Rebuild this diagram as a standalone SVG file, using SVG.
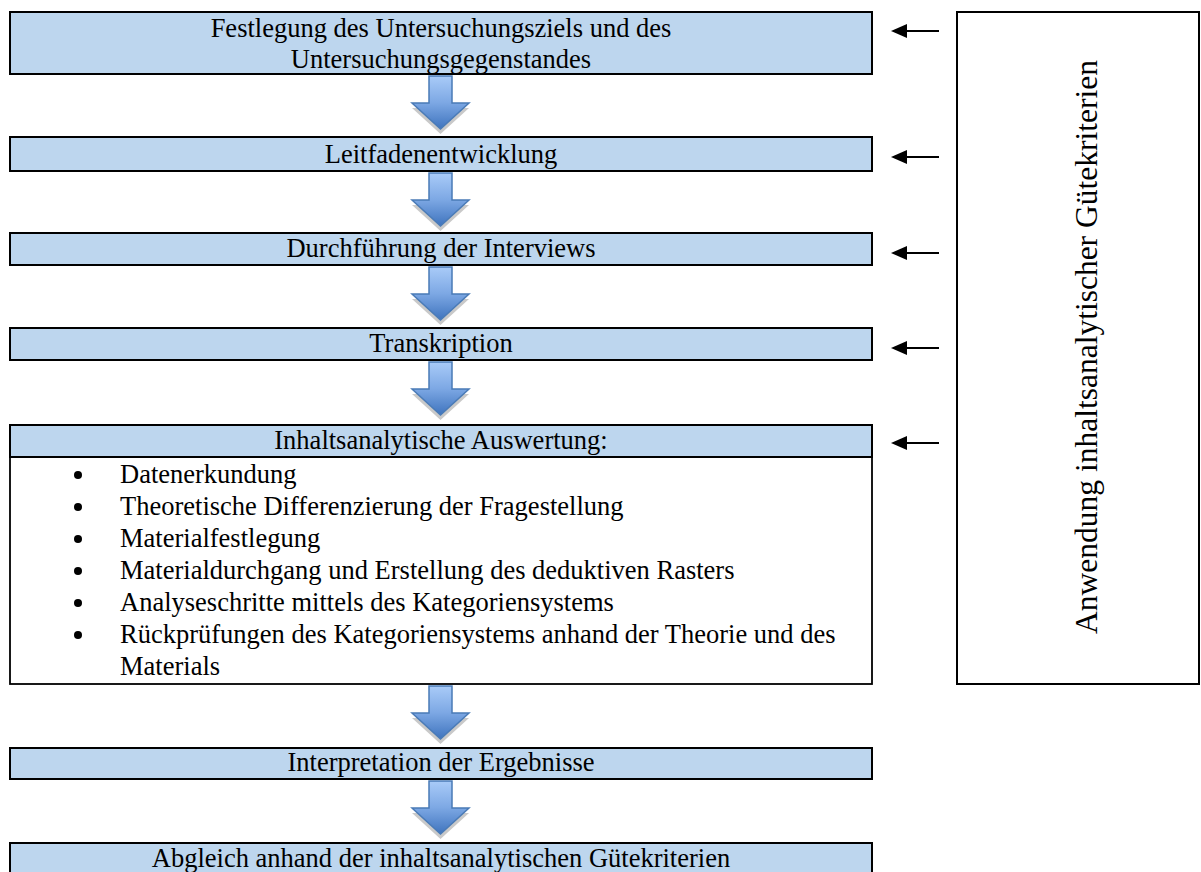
<svg xmlns="http://www.w3.org/2000/svg" width="1201" height="872" viewBox="0 0 1201 872">
  <style>
    .box { fill: #BDD6EE; stroke: #000; stroke-width: 2; }
    .list { fill: #fff; stroke: #000; stroke-width: 1.8; }
    .frame { fill: #fff; stroke: #000; stroke-width: 2; }
    .t { font-family: "Liberation Serif", "Times New Roman", serif; font-size: 26.5px; fill: #000; }
    .c { text-anchor: middle; }
    .v { font-size: 31.5px; }
    .blk { fill: url(#gArrow); stroke: #4A7BB7; stroke-width: 1.5; stroke-linejoin: miter; }
    .shd { fill: #c9c9c9; }
    .side { stroke: #000; stroke-width: 2.2; fill: none; marker-end: url(#ah); }
  </style>
  <defs>
    <linearGradient id="gArrow" x1="0" y1="0" x2="0" y2="1">
      <stop offset="0" stop-color="#A9CBF8"/>
      <stop offset="0.5" stop-color="#7DA8E4"/>
      <stop offset="1" stop-color="#3F74BE"/>
    </linearGradient>
    <marker id="ah" markerUnits="userSpaceOnUse" viewBox="0 0 16 14" refX="12" refY="7" markerWidth="16" markerHeight="14" orient="auto">
      <path d="M0,0 L16,7 L0,14 Z" fill="#000"/>
    </marker>
    <path id="blockArrow" d="M-11.5,0 H11.5 V27 H28.5 L0,53 L-28.5,27 H-11.5 Z"/>
  </defs>

  <g id="node-festlegung">
    <rect class="box" x="10" y="12" width="862" height="62"/>
    <text class="t c" x="441" y="37">Festlegung des Untersuchungsziels und des</text>
    <text class="t c" x="441" y="68">Untersuchungsgegenstandes</text>
  </g>

  <g id="node-leitfaden">
    <rect class="box" x="10" y="137" width="862" height="34"/>
    <text class="t c" x="441" y="163">Leitfadenentwicklung</text>
  </g>

  <g id="node-durchfuehrung">
    <rect class="box" x="10" y="233" width="862" height="32"/>
    <text class="t c" x="441" y="257">Durchführung der Interviews</text>
  </g>

  <g id="node-transkription">
    <rect class="box" x="10" y="328" width="862" height="32"/>
    <text class="t c" x="441" y="352">Transkription</text>
  </g>

  <g id="node-auswertung">
    <rect class="list" x="10" y="457" width="862" height="227"/>
    <rect class="box" x="10" y="425" width="862" height="32"/>
    <text class="t c" x="441" y="449">Inhaltsanalytische Auswertung:</text>
    <circle cx="78" cy="475" r="4"/>
    <circle cx="78" cy="507" r="4"/>
    <circle cx="78" cy="539" r="4"/>
    <circle cx="78" cy="571" r="4"/>
    <circle cx="78" cy="603" r="4"/>
    <circle cx="78" cy="635" r="4"/>
    <text class="t" x="120" y="483">Datenerkundung</text>
    <text class="t" x="120" y="515">Theoretische Differenzierung der Fragestellung</text>
    <text class="t" x="120" y="547">Materialfestlegung</text>
    <text class="t" x="120" y="579">Materialdurchgang und Erstellung des deduktiven Rasters</text>
    <text class="t" x="120" y="611">Analyseschritte mittels des Kategoriensystems</text>
    <text class="t" x="120" y="643">Rückprüfungen des Kategoriensystems anhand der Theorie und des</text>
    <text class="t" x="120" y="675">Materials</text>
  </g>

  <g id="node-interpretation">
    <rect class="box" x="10" y="748" width="862" height="31"/>
    <text class="t c" x="441" y="771">Interpretation der Ergebnisse</text>
  </g>

  <g id="node-abgleich">
    <rect class="box" x="10" y="843" width="862" height="40"/>
    <text class="t c" x="441" y="867">Abgleich anhand der inhaltsanalytischen Gütekriterien</text>
  </g>

  <g id="node-guetekriterien">
    <rect class="frame" x="957" y="12" width="242" height="672"/>
    <text class="t c v" transform="translate(1097,347) rotate(-90)">Anwendung inhaltsanalytischer Gütekriterien</text>
  </g>

  <g id="connectors">
    <use href="#blockArrow" class="shd" x="440.5" y="81"/>
    <use href="#blockArrow" class="blk" x="440.5" y="76"/>
    <use href="#blockArrow" class="shd" x="440.5" y="178"/>
    <use href="#blockArrow" class="blk" x="440.5" y="173"/>
    <use href="#blockArrow" class="shd" x="440.5" y="272"/>
    <use href="#blockArrow" class="blk" x="440.5" y="267"/>
    <use href="#blockArrow" class="shd" x="440.5" y="367"/>
    <use href="#blockArrow" class="blk" x="440.5" y="362"/>
    <use href="#blockArrow" class="shd" x="440.5" y="691"/>
    <use href="#blockArrow" class="blk" x="440.5" y="686"/>
    <use href="#blockArrow" class="shd" x="440.5" y="786"/>
    <use href="#blockArrow" class="blk" x="440.5" y="781"/>

    <line class="side" x1="939" y1="31" x2="895" y2="31"/>
    <line class="side" x1="939" y1="157" x2="895" y2="157"/>
    <line class="side" x1="939" y1="253" x2="895" y2="253"/>
    <line class="side" x1="939" y1="348" x2="895" y2="348"/>
    <line class="side" x1="939" y1="443" x2="895" y2="443"/>
  </g>
</svg>
